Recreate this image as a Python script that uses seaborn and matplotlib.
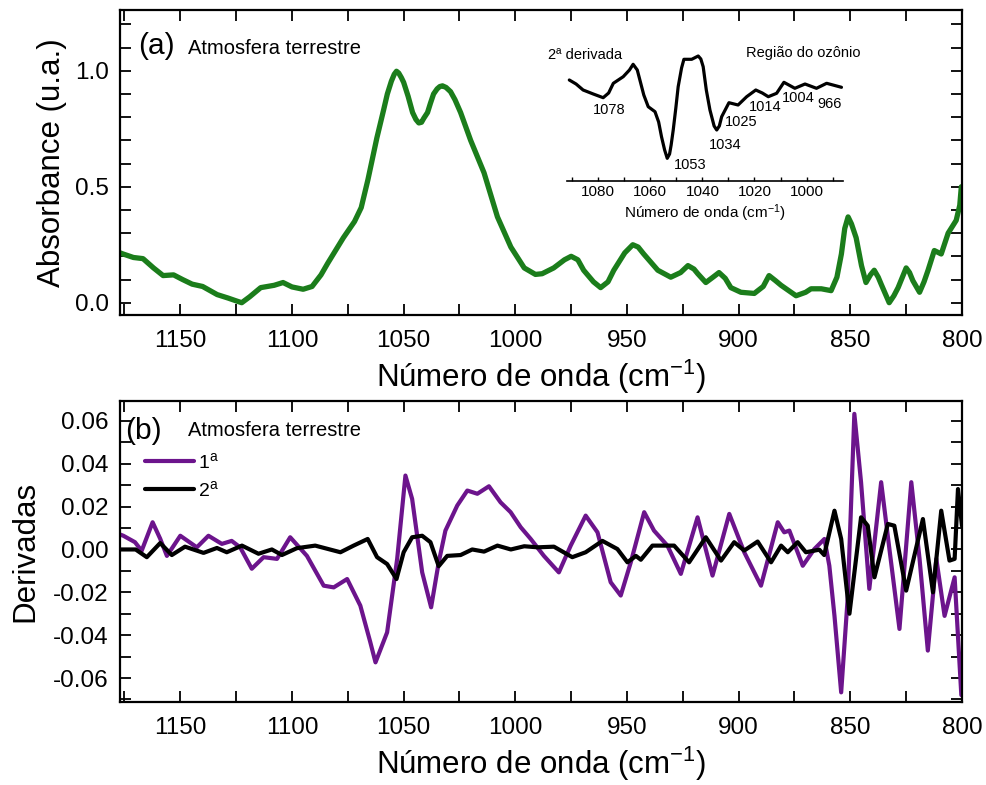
import numpy as np
import pandas as pd
import matplotlib
matplotlib.use("Agg")
import matplotlib.pyplot as plt
from matplotlib.ticker import MultipleLocator, FormatStrFormatter
import seaborn as sns

# ---------------- data ----------------
abs_wn = [1177, 1175.6, 1171, 1166.7, 1162, 1157.7, 1153, 1149, 1144.7, 1140, 1133.5, 1128.6,
          1125, 1122.5, 1119, 1114, 1108, 1104, 1100, 1095, 1091, 1087, 1084, 1077, 1072,
          1069, 1066, 1062, 1059, 1057.3, 1055.5, 1054.2, 1053.2, 1052.2, 1051, 1050, 1048, 1046,
          1044.5, 1043.2, 1042, 1041, 1039.3, 1038, 1036.6, 1035, 1033.8, 1032.6, 1031, 1029,
          1027, 1024.5, 1020, 1014, 1008, 1002, 996, 991, 988, 982.8,
          978, 975, 972, 969.4, 965, 961.8, 958.5, 955.9, 951, 947.4, 945, 942.5, 936.2,
          930.4, 926, 922.7, 920, 918.3, 914.7, 911.5, 908.8, 906, 903.5, 899, 893, 889,
          886.4, 883.5, 881, 874.3, 870, 867.6, 863, 858.6, 856, 854, 852.5, 851, 849.5,
          847.4, 845, 843, 841, 839.3, 837.5, 836.2, 832.6, 830.5, 828.6, 825, 823.5, 822,
          819, 817, 815.2, 812.4, 809.3, 806.2, 802.6, 801, 800.3]
absorbance = [0.215, 0.21, 0.195, 0.19, 0.15, 0.117, 0.12, 0.10, 0.08, 0.07, 0.035, 0.02,
              0.008, 0.0, 0.025, 0.065, 0.075, 0.087, 0.068, 0.058, 0.07, 0.12, 0.17, 0.28, 0.35,
              0.41, 0.53, 0.71, 0.83, 0.90, 0.955, 0.985, 0.998, 0.99, 0.97, 0.95, 0.89, 0.82,
              0.79, 0.775, 0.778, 0.795, 0.82, 0.86, 0.90, 0.922, 0.932, 0.935, 0.928, 0.91,
              0.875, 0.82, 0.70, 0.56, 0.37, 0.24, 0.15, 0.122, 0.125, 0.15,
              0.185, 0.20, 0.185, 0.14, 0.09, 0.065, 0.09, 0.14, 0.215, 0.25, 0.24, 0.21, 0.14,
              0.11, 0.13, 0.16, 0.145, 0.125, 0.087, 0.11, 0.13, 0.105, 0.065, 0.045, 0.04, 0.07,
              0.117, 0.095, 0.075, 0.03, 0.045, 0.06, 0.06, 0.052, 0.11, 0.21, 0.32, 0.37, 0.34,
              0.28, 0.16, 0.087, 0.12, 0.14, 0.11, 0.08, 0.0, 0.03, 0.065, 0.15, 0.13, 0.095,
              0.045, 0.09, 0.14, 0.225, 0.21, 0.30, 0.355, 0.42, 0.50]

inset_wn = [1091.1, 1088.5, 1085.8, 1081.9, 1078.1, 1076, 1074.2, 1070.4, 1068, 1066.6, 1065, 1064,
            1062.5, 1060.8, 1058.2, 1056.8, 1055.7, 1054.5, 1053.5, 1052.6, 1052, 1051.2, 1050.2,
            1049.3, 1048, 1047.1, 1044.1, 1041.6, 1040.6, 1039.7, 1038.5, 1037.1, 1035.5, 1034.5,
            1033.5, 1032.6, 1029.8, 1026.3, 1023, 1019.5, 1017, 1014.7, 1011.5,
            1008.7, 1004.5, 1000.6, 996.2, 992.3, 986.6]
inset_d2 = [0.40, 0.36, 0.30, 0.26, 0.223, 0.27, 0.367, 0.433, 0.50, 0.557, 0.50, 0.40,
            0.25, 0.133, 0.083, -0.02, -0.167, -0.30, -0.383, -0.34, -0.25, -0.10, 0.12,
            0.333, 0.52, 0.607, 0.607, 0.64, 0.61, 0.533, 0.30, 0.10, -0.06, -0.10,
            -0.06, 0.033, 0.173, 0.15, 0.233, 0.30, 0.27, 0.233, 0.267,
            0.377, 0.317, 0.36, 0.317, 0.367, 0.327]
inset_peaks = ["1078", "1053", "1034", "1025", "1014", "1004", "966"]
inset_peak_pos = [(1075.8, 0.10), (1044.8, -0.45), (1031.4, -0.25), (1025.0, -0.017),
                  (1016.0, 0.127), (1003.2, 0.217), (991.0, 0.16)]

d1_wn = [1177, 1175.5, 1170.3, 1167.3, 1162.4, 1159, 1156, 1150, 1142.6, 1137.4, 1131.4, 1127,
         1123.2, 1118, 1112.7, 1106.7, 1100.8, 1093.3, 1085.8, 1081.3, 1075.3, 1069.4, 1065,
         1062.6, 1057.4, 1052.9, 1049.2, 1046.2, 1041.7, 1037.7, 1034.3, 1031.3, 1026, 1021.5,
         1017, 1011.8, 1006.6, 1002.1, 997.6, 993.1, 987.2, 980.5, 975.2, 968.5, 963.2, 957.3,
         952.8, 948.3, 942.3, 937.9, 931.9, 925.9, 918.4, 911.7, 904.2, 897.5, 890, 882.5,
         879.6, 877.3, 871.3, 866.1, 861.6, 859.4, 857.1, 854.1, 851.2, 848.2, 845.2, 841.5,
         836.2, 832.5, 828, 822.7, 819, 815.3, 811.5, 807.8, 803.3, 800.3]
deriv1 = [0.007, 0.0064, 0.0034, -0.0006, 0.0127, 0.005, -0.003, 0.0064, 0.001, 0.0064, 0.0026, 0.004,
          0.001, -0.009, -0.0036, -0.0044, 0.0057, -0.003, -0.0169, -0.0177, -0.0138, -0.0262, -0.043,
          -0.0527, -0.0387, -0.0044, 0.0345, 0.0236, -0.0107, -0.027, -0.006, 0.0088, 0.0205, 0.0275,
          0.026, 0.0295, 0.022, 0.0174, 0.0104, 0.0049, -0.003, -0.0107, 0.0018, 0.0158, 0.008, -0.0153,
          -0.0215, -0.006, 0.0174, 0.0088, 0.0018, -0.0114, 0.015, -0.0122, 0.0166, -0.0013, -0.0169, 0.0127,
          0.008, 0.0088, -0.0076, 0.0002, 0.0049, -0.0076, -0.031, -0.0667, -0.023, 0.0633, 0.0314, -0.0184,
          0.0314, 0.0002, -0.0371, 0.0314, -0.0044, -0.0472, -0.0044, -0.031, -0.013, -0.068]

d2_wn = [1177, 1175.5, 1170, 1165, 1159, 1153.8, 1147.9, 1139.6, 1133.6, 1129.2, 1122.4, 1115,
         1109, 1104.5, 1097.8, 1089.6, 1078.3, 1072.4, 1066.1, 1061.9, 1057.4, 1053.2, 1050,
         1046.2, 1041.7, 1038, 1034.3, 1030.5, 1024.5, 1019.3, 1014, 1008, 1002, 996, 990,
         982.7, 974.5, 968.5, 961, 954.3, 949.8, 946, 943.8, 938.6, 928.9, 922.2, 914.7, 907.9,
         902, 897.5, 891.5, 885.5, 881, 878, 873.6, 869.9, 863.9, 861.7, 857.1, 854.1, 850.4,
         845.2, 842.2, 839.2, 833.2, 830.3, 825, 817.5, 813, 809.3, 805.6, 803.3, 801.8, 800]
deriv2 = [0.0, 0.0, 0.0, -0.0036, 0.003, -0.0026, 0.0013, -0.0016, 0.0007, -0.0013, 0.0018, -0.002,
          0.0, -0.0026, 0.0006, 0.0018, -0.0013, 0.0018, 0.0049, -0.0036, -0.0068, -0.0138, -0.0013,
          0.0057, 0.0064, 0.0034, -0.0078, -0.003, -0.0026, 0.0, -0.001, 0.0018, 0.0, 0.0015, 0.001,
          0.0013, -0.0036, -0.0013, 0.004, 0.0002, -0.006, -0.003, -0.0048, 0.0018, 0.0018, -0.006, 0.0057, -0.0052,
          0.0034, -0.0005, 0.0037, -0.006, 0.0018, -0.0013, 0.0034, -0.0013, -0.0001, -0.0026, 0.0181, 0.0049, -0.030,
          0.015, 0.0111, -0.013, 0.0119, 0.0111, -0.0192, 0.0142, -0.020, 0.0181, -0.0052, -0.0044, 0.0282, 0.011]

series_labels = ["1$^{a}$", "2$^{a}$"]
main_xticks = [1150, 1100, 1050, 1000, 950, 900, 850, 800]
inset_xticks = [1080, 1060, 1040, 1020, 1000]

# ---------------- style ----------------
sns.set_theme(style="ticks")
plt.rcParams["font.family"] = ["Liberation Sans", "DejaVu Sans"]
plt.rcParams["mathtext.fontset"] = "custom"
plt.rcParams["mathtext.rm"] = "Liberation Sans"
plt.rcParams["mathtext.it"] = "Liberation Sans"
plt.rcParams["mathtext.default"] = "regular"
plt.rcParams["axes.unicode_minus"] = False
plt.rcParams["lines.solid_joinstyle"] = "round"
plt.rcParams["lines.solid_capstyle"] = "round"
plt.rcParams["text.color"] = "black"
plt.rcParams["axes.labelcolor"] = "black"
plt.rcParams["xtick.color"] = "black"
plt.rcParams["ytick.color"] = "black"

GREEN = "#1b7d1b"
PURPLE = "#6c148c"

W, H = 986, 785
fig = plt.figure(figsize=(W / 100, H / 100), dpi=100)


def fbox(l, r, t, b):
    return [l / W, 1 - b / H, (r - l) / W, (b - t) / H]


ax1 = fig.add_axes(fbox(120, 962, 10, 315))
ax2 = fig.add_axes(fbox(120, 962, 401, 702))

df_abs = pd.DataFrame({"wn": abs_wn, "A": absorbance})
sns.lineplot(data=df_abs, x="wn", y="A", ax=ax1, color=GREEN, lw=3.8, estimator=None, sort=False)

df1 = pd.DataFrame({"wn": d1_wn, "v": deriv1})
df2 = pd.DataFrame({"wn": d2_wn, "v": deriv2})
sns.lineplot(data=df1, x="wn", y="v", ax=ax2, color=PURPLE, lw=3.0, estimator=None, sort=False,
             label=series_labels[0])
sns.lineplot(data=df2, x="wn", y="v", ax=ax2, color="black", lw=3.0, estimator=None, sort=False,
             label=series_labels[1])

xlab = "Número de onda (cm$^{-1}$)"
for ax in (ax1, ax2):
    ax.set_xlim(1177, 800)
    ax.set_xticks(main_xticks)
    ax.xaxis.set_minor_locator(MultipleLocator(25))
    ax.tick_params(which="both", direction="in", top=True, right=True, length=8, width=1.3,
                   labelsize=17.5, pad=8, color="black", labelcolor="black")
    ax.tick_params(axis="x", which="both", pad=11)
    for s in ax.spines.values():
        s.set_linewidth(1.6)
        s.set_color("black")
    ax.set_xlabel(xlab, fontsize=22.5, labelpad=4, color="black")
    ax.set_facecolor("white")

ax1.set_ylim(-0.053, 1.262)
ax1.yaxis.set_major_locator(MultipleLocator(0.5))
ax1.yaxis.set_minor_locator(MultipleLocator(0.1))
ax1.yaxis.set_major_formatter(FormatStrFormatter("%.1f"))
ax1.set_ylabel("Absorbance (u.a.)", fontsize=22.5, color="black")
ax1.yaxis.set_label_coords((67 - 120) / 842, 0.5)

ax2.set_ylim(-0.0712, 0.0693)
ax2.yaxis.set_major_locator(MultipleLocator(0.02))
ax2.yaxis.set_minor_locator(MultipleLocator(0.01))
ax2.yaxis.set_major_formatter(FormatStrFormatter("%.2f"))
ax2.set_ylabel("Derivadas", fontsize=22.5, color="black")
ax2.yaxis.set_label_coords((40 - 120) / 842, 0.5)

# panel labels
ax1.text((138 - 120) / 842, (315 - 46) / 305, "(a)", transform=ax1.transAxes, fontsize=21.5,
         ha="left", va="center", color="black")
ax1.text((188 - 120) / 842, (315 - 48) / 305, "Atmosfera terrestre", transform=ax1.transAxes,
         fontsize=14.5, ha="left", va="center", color="black")
ax2.text((125 - 120) / 842, (702 - 431) / 301, "(b)", transform=ax2.transAxes, fontsize=21.5,
         ha="left", va="center", color="black")
ax2.text((188 - 120) / 842, (702 - 431) / 301, "Atmosfera terrestre", transform=ax2.transAxes,
         fontsize=14.5, ha="left", va="center", color="black")

leg = ax2.legend(loc="upper left", bbox_to_anchor=((145 - 120) / 842, (702 - 452) / 301),
                 frameon=False, fontsize=14, handlelength=2.5, handletextpad=0.25,
                 borderpad=0, borderaxespad=0, labelspacing=0.4)
for t in leg.get_texts():
    t.set_color("black")

# inset
axi = fig.add_axes(fbox(566.7, 843.3, 50, 180.5))
df_in = pd.DataFrame({"wn": inset_wn, "v": inset_d2})
sns.lineplot(data=df_in, x="wn", y="v", ax=axi, color="black", lw=2.3, estimator=None, sort=False)
axi.set_xlim(1092.1, 985.9)
axi.set_ylim(-0.605, 0.70)
axi.patch.set_alpha(0)
for side in ("left", "right", "top"):
    axi.spines[side].set_visible(False)
axi.spines["bottom"].set_linewidth(1.2)
axi.spines["bottom"].set_color("black")
axi.set_yticks([])
axi.set_xticks(inset_xticks)
axi.xaxis.set_minor_locator(MultipleLocator(10))
axi.tick_params(axis="x", which="both", direction="in", length=3, width=1, labelsize=11, pad=3,
                color="black", labelcolor="black")
axi.set_xlabel(xlab, fontsize=11, labelpad=3, color="black")
axi.set_ylabel("")
for lab, (px, py) in zip(inset_peaks, inset_peak_pos):
    axi.text(px, py, lab, fontsize=10.5, ha="center", va="center", color="black")
axi.text(1099.3, 0.65, "2ª derivada", fontsize=10.5, ha="left", va="center", clip_on=False,
         color="black")
axi.text(1001.3, 0.667, "Região do ozônio", fontsize=10.5, ha="center", va="center", clip_on=False,
         color="black")

fig.savefig("out.png", dpi=100, facecolor="white")
